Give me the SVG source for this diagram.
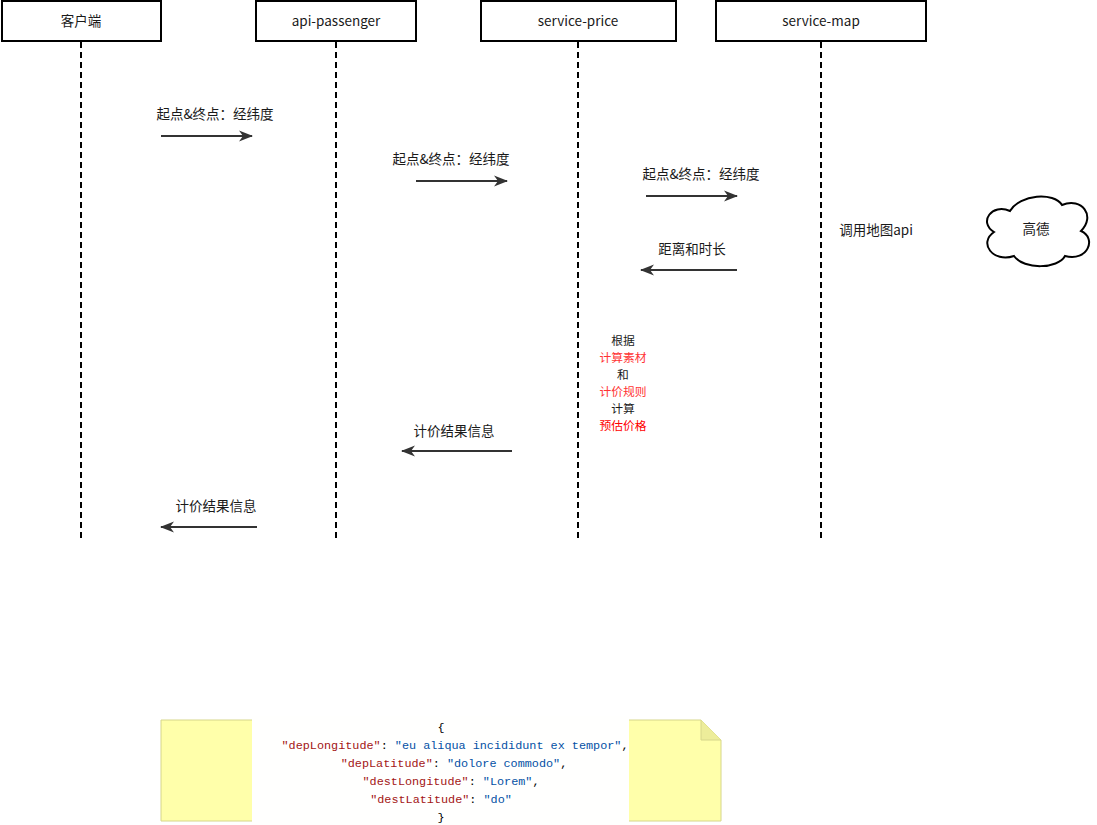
<svg xmlns="http://www.w3.org/2000/svg" width="1097" height="825" viewBox="0 0 1097 825">
<style>
.box{fill:#fff;stroke:#000;stroke-width:2}
.t{font-family:"Noto Sans CJK SC","Liberation Sans",sans-serif;font-size:13.5px;fill:#1a1a1a;text-anchor:middle}
.c{font-family:"Noto Sans CJK SC","Liberation Sans",sans-serif;font-size:11.8px;fill:#1a1a1a;text-anchor:middle}
.life{stroke:#000;stroke-width:2;stroke-dasharray:6,4;fill:none}
.msg{stroke:#333;stroke-width:2;fill:none}
.red{fill:#ff3333}
.red2{fill:#ff0000}
.mono{font-family:"Liberation Mono","DejaVu Sans Mono",monospace;font-size:11.8px;text-anchor:middle;fill:#000}
.k{fill:#a31515}
.s{fill:#0451a5}
</style>
<defs>
<marker id="arr" markerUnits="userSpaceOnUse" markerWidth="16" markerHeight="12" refX="13" refY="6" orient="auto">
<path d="M0,0.5 L14,6 L0,11.5 L4,6 Z" fill="#333"/>
</marker>
</defs>
<rect width="1097" height="825" fill="#fff"/>
<g id="lifelines">
<line class="life" x1="81" y1="42" x2="81" y2="540"/>
<line class="life" x1="336" y1="42" x2="336" y2="540"/>
<line class="life" x1="578" y1="42" x2="578" y2="540"/>
<line class="life" x1="821" y1="42" x2="821" y2="540"/>
</g>
<g id="client"><rect class="box" x="2" y="1" width="159" height="40"/><text class="t" x="81" y="26">客户端</text></g>
<g id="api-passenger"><rect class="box" x="256" y="1" width="160" height="40"/><text class="t" x="336" y="26">api-passenger</text></g>
<g id="service-price"><rect class="box" x="481" y="1" width="195" height="40"/><text class="t" x="578" y="26">service-price</text></g>
<g id="service-map"><rect class="box" x="716" y="1" width="210" height="40"/><text class="t" x="821" y="26">service-map</text></g>
<g id="connectors">
<line class="msg" x1="161" y1="136" x2="252" y2="136" marker-end="url(#arr)"/>
<line class="msg" x1="416" y1="181" x2="507" y2="181" marker-end="url(#arr)"/>
<line class="msg" x1="646" y1="196" x2="737" y2="196" marker-end="url(#arr)"/>
<line class="msg" x1="737" y1="270" x2="641" y2="270" marker-end="url(#arr)"/>
<line class="msg" x1="512" y1="451" x2="402" y2="451" marker-end="url(#arr)"/>
<line class="msg" x1="257" y1="527" x2="161" y2="527" marker-end="url(#arr)"/>
</g>
<g id="labels">
<text class="t" x="215" y="119">起点&amp;终点：经纬度</text>
<text class="t" x="451" y="164">起点&amp;终点：经纬度</text>
<text class="t" x="701" y="179">起点&amp;终点：经纬度</text>
<text class="t" x="692" y="254">距离和时长</text>
<text class="t" x="454" y="436">计价结果信息</text>
<text class="t" x="216" y="511">计价结果信息</text>
<text class="t" x="876" y="235">调用地图api</text>
</g>
<g id="calc">
<text class="c" x="623" y="345">根据</text>
<text class="c red" x="623" y="362">计算素材</text>
<text class="c" x="623" y="379">和</text>
<text class="c red" x="623" y="396">计价规则</text>
<text class="c" x="623" y="413">计算</text>
<text class="c red2" x="623" y="430">预估价格</text>
</g>
<g id="gaode">
<path d="M1010,211 C992,203 978,222 994,232 C978,243 993,263 1014,256 C1024,270 1058,269 1065,256 C1088,262 1097,238 1081,231 C1096,216 1082,197 1062,205 C1054,192 1020,194 1010,211 Z" fill="#fff" stroke="#000" stroke-width="2"/>
<text class="t" x="1036" y="234">高德</text>
</g>
<g id="note">
<path d="M161,720 L701,720 L721,740 L721,821 L161,821 Z" fill="#ffffaa" stroke="#d6d68a" stroke-width="1"/>
<path d="M701,720 L701,740 L721,740" fill="#eded9a" stroke="#d6d68a" stroke-width="1"/>
<rect x="252" y="716" width="377" height="109" fill="#fffffe"/>
<text class="mono" x="441" y="731">{</text>
<text class="mono" x="455" y="749"><tspan class="k">"depLongitude"</tspan>: <tspan class="s">"eu aliqua incididunt ex tempor"</tspan>,</text>
<text class="mono" x="454" y="767"><tspan class="k">"depLatitude"</tspan>: <tspan class="s">"dolore commodo"</tspan>,</text>
<text class="mono" x="451" y="785"><tspan class="k">"destLongitude"</tspan>: <tspan class="s">"Lorem"</tspan>,</text>
<text class="mono" x="441" y="803"><tspan class="k">"destLatitude"</tspan>: <tspan class="s">"do"</tspan></text>
<text class="mono" x="441" y="821">}</text>
</g>
</svg>
